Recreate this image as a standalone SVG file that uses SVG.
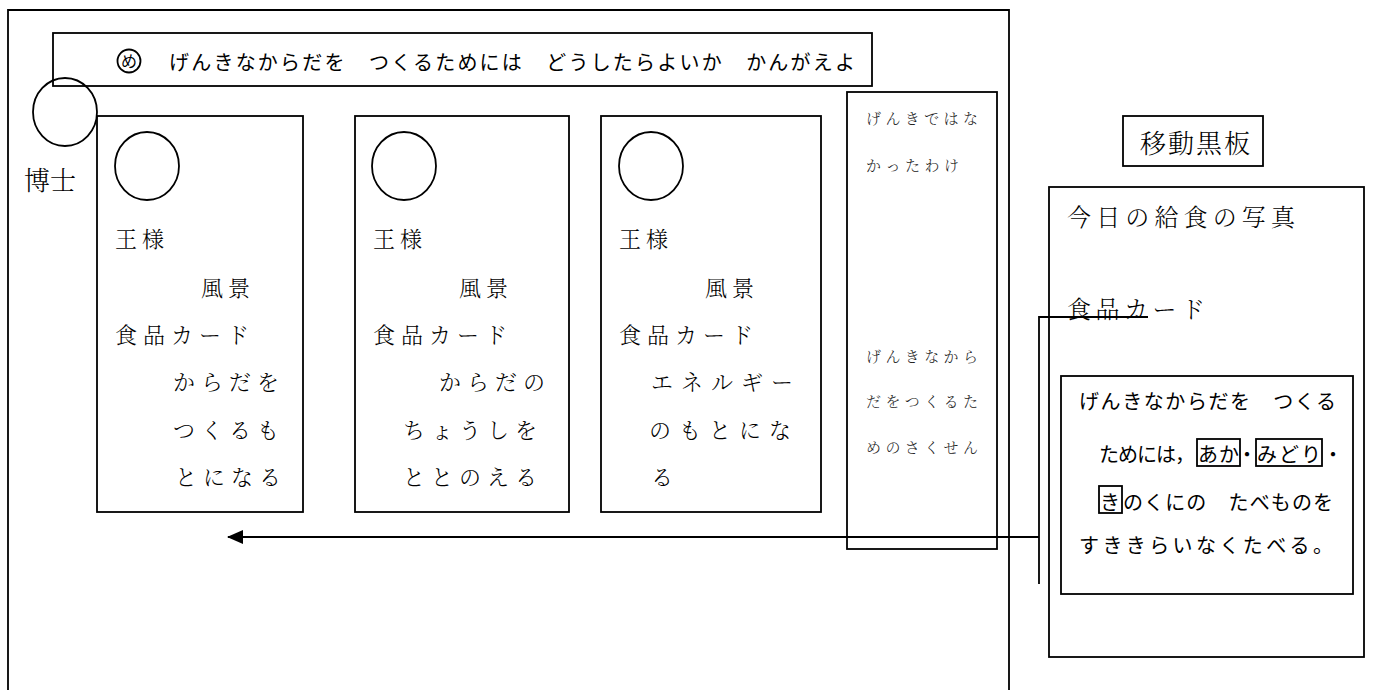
<svg xmlns="http://www.w3.org/2000/svg" width="1378" height="690" viewBox="0 0 1378 690">
<style>
.ln{fill:none;stroke:#000;stroke-width:1.8}
.t{font-family:"Noto Sans CJK JP","Noto Sans CJK SC",sans-serif;fill:#000}
.mf{font-family:"Noto Serif CJK JP","Noto Sans CJK JP",serif;fill:#000}
.m{font-size:22px;font-weight:300}
.s{font-size:15px;font-weight:300;fill:#222}
.g{font-size:20px}
</style>
<defs>
<marker id="ah" markerWidth="16" markerHeight="14" refX="15" refY="7" orient="auto" markerUnits="userSpaceOnUse">
<path d="M0,0 L16,7 L0,14 Z" fill="#000"/>
</marker>
</defs>
<rect width="1378" height="690" fill="#fff"/>

<g id="frame">
<path class="ln" d="M8,700 V10 H1009 V700"/>
</g>

<g id="banner">
<rect class="ln" x="53" y="33" width="819" height="53" fill="#fff"/>
<circle class="ln" cx="129" cy="61" r="11.5"/>
<text class="t" x="129" y="67" font-size="16" text-anchor="middle">め</text>
<text class="t g" x="169" y="70" textLength="686" lengthAdjust="spacing">げんきなからだを　つくるためには　どうしたらよいか　かんがえよ</text>
</g>

<g id="hakase">
<ellipse class="ln" cx="65" cy="112" rx="32" ry="34" fill="#fff"/>
<text class="mf" x="24" y="190" font-size="26" font-weight="300">博士</text>
</g>

<g id="card1">
<rect class="ln" x="97" y="116" width="206" height="396"/>
<ellipse class="ln" cx="147" cy="166" rx="32" ry="34"/>
<text class="mf m" x="115" y="247" letter-spacing="5">王様</text>
<text class="mf m" x="201" y="296" letter-spacing="5">風景</text>
<text class="mf m" x="115" y="343" letter-spacing="6">食品カード</text>
<text class="mf m" x="173" y="390" letter-spacing="6">からだを</text>
<text class="mf m" x="173" y="438" letter-spacing="6">つくるも</text>
<text class="mf m" x="175" y="485" letter-spacing="6">とになる</text>
</g>

<g id="card2">
<rect class="ln" x="355" y="116" width="214" height="396"/>
<ellipse class="ln" cx="404" cy="166" rx="32" ry="34"/>
<text class="mf m" x="373" y="247" letter-spacing="5">王様</text>
<text class="mf m" x="459" y="296" letter-spacing="5">風景</text>
<text class="mf m" x="373" y="343" letter-spacing="6">食品カード</text>
<text class="mf m" x="439" y="390" letter-spacing="6">からだの</text>
<text class="mf m" x="403" y="438" letter-spacing="6">ちょうしを</text>
<text class="mf m" x="403" y="485" letter-spacing="6">ととのえる</text>
</g>

<g id="card3">
<rect class="ln" x="601" y="116" width="220" height="396"/>
<ellipse class="ln" cx="651" cy="166" rx="32" ry="34"/>
<text class="mf m" x="619" y="247" letter-spacing="5">王様</text>
<text class="mf m" x="705" y="296" letter-spacing="5">風景</text>
<text class="mf m" x="619" y="343" letter-spacing="6">食品カード</text>
<text class="mf m" x="651" y="390" letter-spacing="8">エネルギー</text>
<text class="mf m" x="649" y="438" letter-spacing="8">のもとにな</text>
<text class="mf m" x="651" y="485">る</text>
</g>

<g id="reason">
<rect class="ln" x="847" y="92" width="150" height="457"/>
<text class="mf s" x="866" y="124" textLength="112" lengthAdjust="spacing">げんきではな</text>
<text class="mf s" x="866" y="171" textLength="93" lengthAdjust="spacing">かったわけ</text>
<text class="mf s" x="866" y="362" textLength="112" lengthAdjust="spacing">げんきなから</text>
<text class="mf s" x="866" y="407" textLength="112" lengthAdjust="spacing">だをつくるた</text>
<text class="mf s" x="866" y="453" textLength="112" lengthAdjust="spacing">めのさくせん</text>
</g>

<g id="label-board">
<rect class="ln" x="1123" y="116" width="140" height="50"/>
<text class="mf" x="1140" y="153" font-size="26" font-weight="300" textLength="110" lengthAdjust="spacing">移動黒板</text>
</g>

<g id="board">
<rect class="ln" x="1049" y="187" width="315" height="470"/>
<text class="mf" x="1067" y="226" font-size="24" font-weight="300" textLength="228" lengthAdjust="spacing">今日の給食の写真</text>
<text class="mf" x="1067" y="318" font-size="24" font-weight="300" textLength="138" lengthAdjust="spacing">食品カード</text>
</g>

<g id="summary">
<rect class="ln" x="1061" y="376" width="292" height="218"/>
<text class="t g" x="1079" y="409" textLength="257" lengthAdjust="spacing">げんきなからだを　つくる</text>
<text class="t g" x="1099" y="462" textLength="96" lengthAdjust="spacing">ためには，</text>
<rect class="ln" x="1197" y="439" width="43" height="27" stroke-width="1.6"/>
<text class="t g" x="1198" y="462" textLength="41" lengthAdjust="spacing">あか</text>
<text class="t g" x="1237" y="462">・</text>
<rect class="ln" x="1256" y="439" width="66" height="27" stroke-width="1.6"/>
<text class="t g" x="1257" y="462" textLength="64" lengthAdjust="spacing">みどり</text>
<text class="t g" x="1323" y="462">・</text>
<rect class="ln" x="1099" y="486" width="23" height="27" stroke-width="1.6"/>
<text class="t g" x="1100" y="510">き</text>
<text class="t g" x="1123" y="510" textLength="210" lengthAdjust="spacing">のくにの　たべものを</text>
<text class="t g" x="1079" y="553" textLength="254" lengthAdjust="spacing">すききらいなくたべる。</text>
</g>

<g id="connectors">
<path class="ln" d="M1148,317 H1039 V584" stroke-width="2"/>
<path class="ln" d="M1039,537 H228" stroke-width="2.2" marker-end="url(#ah)"/>
</g>
</svg>
